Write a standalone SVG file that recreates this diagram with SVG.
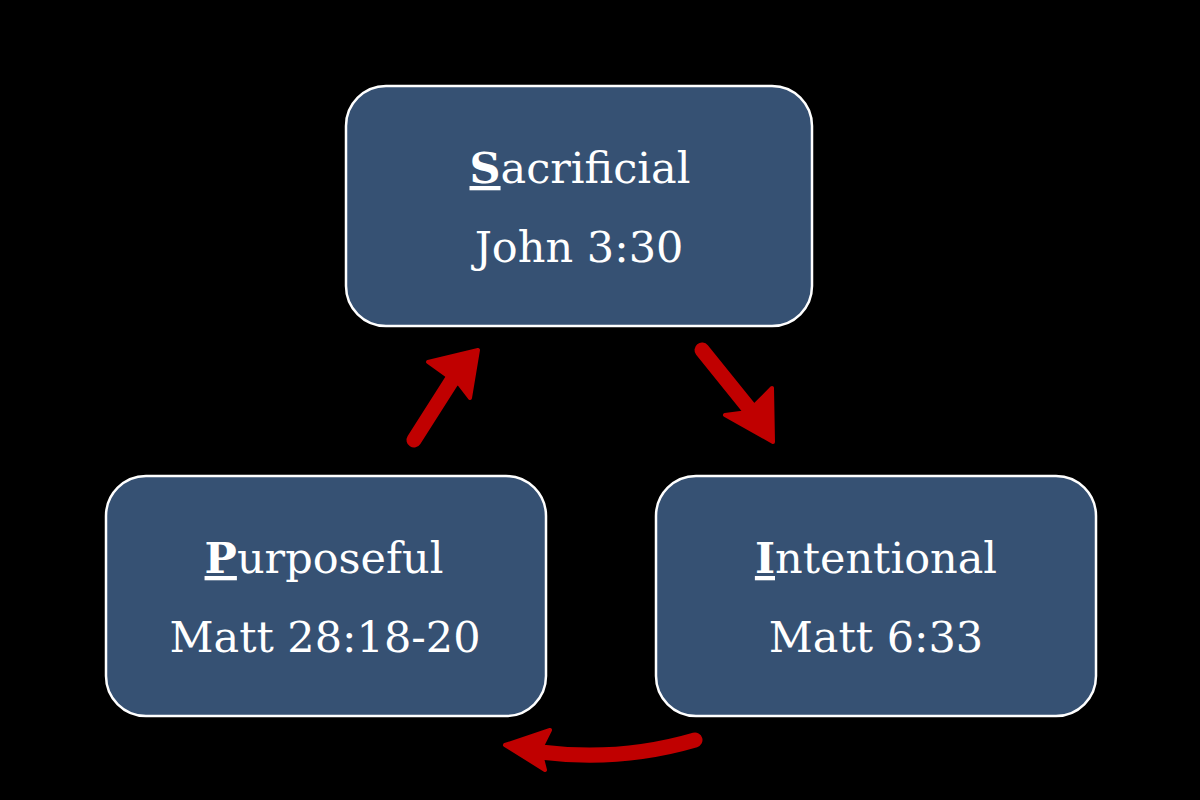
<svg xmlns="http://www.w3.org/2000/svg" width="1200" height="800" viewBox="0 0 1200 800">
<style>
.box{fill:#365173;stroke:#ffffff;stroke-width:2.5}
.t{font-family:"DejaVu Serif","Liberation Serif",serif;font-size:43px;fill:#ffffff;text-anchor:middle}
.b{font-weight:bold;text-decoration:underline}
.arr{fill:none;stroke:#c00000;stroke-width:15;stroke-linecap:round;stroke-linejoin:round}
.head{fill:#c00000;stroke:#c00000;stroke-width:4;stroke-linejoin:round}
</style>
<rect width="1200" height="800" fill="#000000"/>
<g id="node-sacrificial">
<rect class="box" x="346" y="86" width="466" height="240" rx="40"/>
<text class="t" x="580" y="183"><tspan class="b">S</tspan>acrificial</text>
<text class="t" x="579" y="262">John 3:30</text>
</g>
<g id="node-intentional">
<rect class="box" x="656" y="476" width="440" height="240" rx="40"/>
<text class="t" x="876" y="573"><tspan class="b">I</tspan>ntentional</text>
<text class="t" x="876" y="652">Matt 6:33</text>
</g>
<g id="node-purposeful">
<rect class="box" x="106" y="476" width="440" height="240" rx="40"/>
<text class="t" x="324" y="573"><tspan class="b">P</tspan>urposeful</text>
<text class="t" x="325" y="652">Matt 28:18-20</text>
</g>
<g id="connectors">
<path class="arr" d="M414 440 L456 374"/>
<polygon class="head" points="428,362 478,350 470,398 460,385"/>
<path class="arr" d="M702 350 L752 412"/>
<polygon class="head" points="772,388 773,442 725,415 748,412"/>
<path class="arr" d="M695 740 Q620 762 540 752"/>
<polygon class="head" points="505,745 550,730 540,750 545,770"/>
</g>
</svg>
